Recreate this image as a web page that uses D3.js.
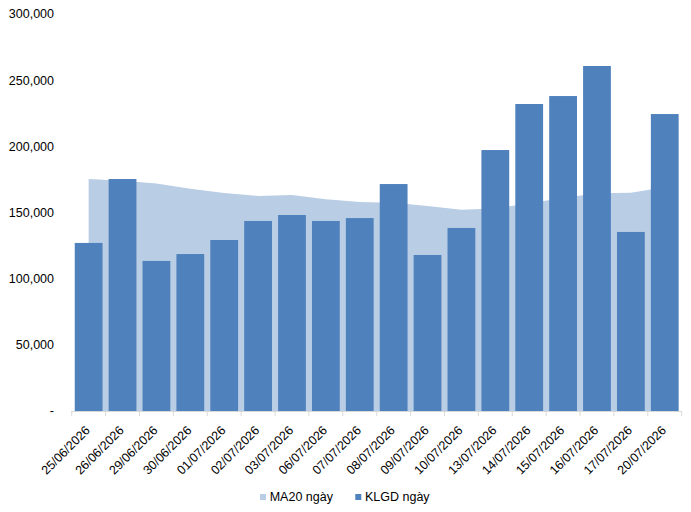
<!DOCTYPE html>
<html>
<head>
<meta charset="utf-8">
<script src="https://cdn.jsdelivr.net/npm/d3@7"></script>
<style>
  body { margin: 0; background: #fff; }
  svg text { font-family: "Liberation Sans", Arial, sans-serif; fill: #000; }
</style>
</head>
<body>
<svg id="chart"></svg>
<script>
// data
const dates = ["25/06/2026", "26/06/2026", "29/06/2026", "30/06/2026", "01/07/2026", "02/07/2026",
  "03/07/2026", "06/07/2026", "07/07/2026", "08/07/2026", "09/07/2026", "10/07/2026",
  "13/07/2026", "14/07/2026", "15/07/2026", "16/07/2026", "17/07/2026", "20/07/2026"];
const klgd = [127000, 175300, 113400, 118600, 129200, 143600, 148100, 143600, 145800, 171500,
  117900, 138300, 197200, 232000, 238000, 260700, 135300, 224400];
const ma20 = [175300, 174000, 172000, 168000, 164700, 162500, 163200, 160000, 158000, 157400,
  154900, 152100, 153000, 157000, 161000, 164500, 165000, 169000];
const yTicks = [0, 50000, 100000, 150000, 200000, 250000, 300000];
const legendItems = ["MA20 ngày", "KLGD ngày"];

let width = 691,
    height = 512,
    svg = d3.select("#chart").attr("width", width).attr("height", height);

const barColor = "#4F81BD",
      areaColor = "#B9CDE5";

let x = d3.scaleBand()
    .domain(dates)
    .range([71.7, 681.7])
    .paddingInner(0.18)
    .paddingOuter(0.09);

let y = d3.scaleLinear()
    .domain([0, 300000])
    .range([411, 14]);

// MA20 area, from center of first band to center of last band
let area = d3.area()
    .x((d, i) => x(dates[i]) + x.bandwidth() / 2)
    .y0(y(0))
    .y1(d => y(d));

svg.append("path")
    .datum(ma20)
    .attr("fill", areaColor)
    .attr("d", area);

// bars
svg.selectAll("rect.bar")
    .data(klgd)
    .enter()
    .append("rect")
    .attr("class", "bar")
    .attr("x", (d, i) => x(dates[i]))
    .attr("y", d => y(d))
    .attr("width", x.bandwidth())
    .attr("height", d => y(0) - y(d))
    .attr("fill", barColor);

// y axis labels (no line)
svg.selectAll("text.ylab")
    .data(yTicks)
    .enter()
    .append("text")
    .attr("class", "ylab")
    .attr("x", 54)
    .attr("y", d => y(d))
    .attr("dy", "0.35em")
    .attr("text-anchor", "end")
    .style("font-size", "12.5px")
    .text(d => d === 0 ? "-" : d3.format(",")(d));

// x axis line and ticks between categories
let step = x.step();
let x0 = x.range()[0];
svg.append("line")
    .attr("x1", x0).attr("x2", x.range()[1])
    .attr("y1", y(0) + 0.5).attr("y2", y(0) + 0.5)
    .attr("stroke", "#d9d9d9");

svg.selectAll("line.tick")
    .data(d3.range(dates.length + 1))
    .enter()
    .append("line")
    .attr("class", "tick")
    .attr("x1", i => x0 + i * step).attr("x2", i => x0 + i * step)
    .attr("y1", y(0)).attr("y2", y(0) + 5)
    .attr("stroke", "#d9d9d9");

// rotated date labels
svg.selectAll("text.xlab")
    .data(dates)
    .enter()
    .append("text")
    .attr("class", "xlab")
    .attr("transform", d => "translate(" + (x(d) + x.bandwidth() / 2 - 1) + "," + (y(0) + 17) + ") rotate(-45)")
    .attr("text-anchor", "end")
    .attr("dy", "0.35em")
    .style("font-size", "12.5px")
    .text(d => d);

// legend
let legend = svg.selectAll("g.legend")
    .data(legendItems)
    .enter()
    .append("g")
    .attr("class", "legend")
    .attr("transform", (d, i) => "translate(" + (260 + i * 95.3) + ",494)");

legend.append("rect")
    .attr("width", 6).attr("height", 6)
    .attr("fill", (d, i) => i === 0 ? areaColor : barColor);

legend.append("text")
    .attr("x", 9.7)
    .attr("y", 3)
    .attr("dy", "0.35em")
    .style("font-size", "12.5px")
    .text(d => d);
</script>
</body>
</html>
